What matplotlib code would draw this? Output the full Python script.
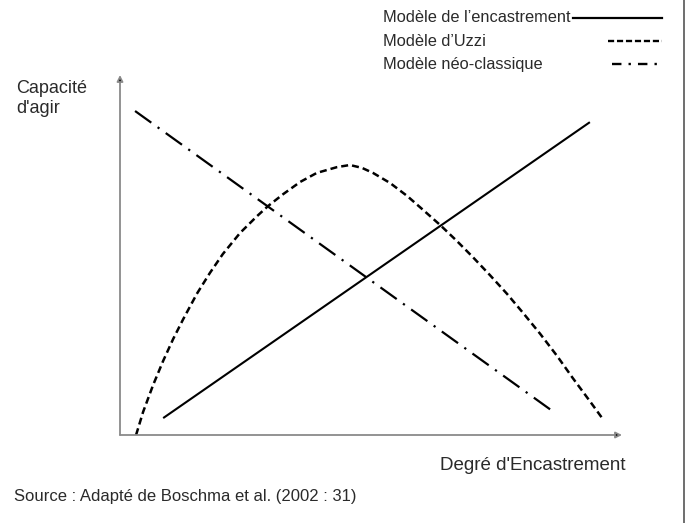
import matplotlib.pyplot as plt
from matplotlib.lines import Line2D

plt.rcParams['font.family'] = ['Liberation Sans', 'DejaVu Sans']

# values, in axis units (0-100 on both axes)
encastrement_x = [8.6, 93.6]
encastrement_y = [4.7, 86.9]

neoclassique_x = [3.0, 86.7]
neoclassique_y = [90.0, 6.1]

uzzi_x = [3.2, 4.6, 6.6, 8.6, 10.6, 12.6, 15.3, 17.9, 20.5, 23.9, 27.3, 29.5,
          32.5, 35.9, 39.2, 43.2, 45.8, 48.2, 50.4, 53.8, 57.2, 60.4, 63.8,
          67.1, 70.3, 73.7, 77.1, 80.3, 83.7, 87.1, 90.2, 93.6, 96.2]
uzzi_y = [0.0, 6.4, 13.9, 20.6, 26.7, 32.2, 39.2, 45.0, 50.3, 56.1, 60.8, 63.6,
          66.9, 70.3, 72.8, 74.4, 75.0, 74.2, 72.8, 70.0, 66.4, 62.5, 58.3,
          53.9, 49.4, 44.4, 39.2, 33.9, 28.1, 21.9, 15.8, 9.4, 4.4]

legend_labels = ["Modèle de l’encastrement", "Modèle d’Uzzi", "Modèle néo-classique"]
y_label = "Capacité\nd'agir"
x_label = "Degré d'Encastrement"
source = "Source : Adapté de Boschma et al. (2002 : 31)"

W, H = 686, 523
fig = plt.figure(figsize=(W / 100, H / 100), dpi=100)
ax = fig.add_axes([120 / W, (H - 435) / H, (622 - 120) / W, (435 - 75) / H])
ax.set_xlim(0, 100)
ax.set_ylim(0, 100)
ax.axis('off')

txt = '#2a2a2a'

ax.plot(encastrement_x, encastrement_y, color='black', lw=1.5, solid_capstyle='butt')
ax.plot(uzzi_x, uzzi_y, color='black', lw=1.8, linestyle=(0, (2.8, 1.6)))
ax.plot(neoclassique_x, neoclassique_y, color='black', lw=1.6, linestyle=(0, (9, 3.5, 1, 3.5)))

# axes with arrow heads
for tip in [(0, 1), (1, 0)]:
    ax.annotate('', xy=tip, xytext=(0, 0), xycoords='axes fraction',
                arrowprops=dict(arrowstyle='-|>', color='#8a8a8a', lw=1.3,
                                mutation_scale=9, shrinkA=0, shrinkB=0, fc='black'))

# legend drawn by hand, like the original
def px(x, y):
    return x / W, 1 - y / H

for lab, y in zip(legend_labels, [18, 41, 64]):
    fig.text(*px(383, y), lab, fontsize=11.8, color=txt, ha='left', va='center')
fig.add_artist(Line2D([573 / W, 662 / W], [px(0, 18)[1]] * 2, color='black', lw=1.6))
fig.add_artist(Line2D([608 / W, 662 / W], [px(0, 41)[1]] * 2, color='black', lw=1.7,
                      linestyle=(0, (2.6, 1.2))))
fig.add_artist(Line2D([612 / W, 662 / W], [px(0, 64)[1]] * 2, color='black', lw=1.7,
                      linestyle=(0, (4, 3, 1, 3))))

fig.text(*px(16, 80), y_label, fontsize=13, color=txt, ha='left', va='top', linespacing=1.25)
fig.text(*px(626, 465), x_label, fontsize=13.5, color=txt, ha='right', va='center')
fig.text(*px(14, 496), source, fontsize=12, color=txt, ha='left', va='center')

# frame line on the right edge
fig.add_artist(Line2D([684 / W, 684 / W], [0, 1], color='#555555', lw=1.2))

fig.savefig('out.png', dpi=100)
